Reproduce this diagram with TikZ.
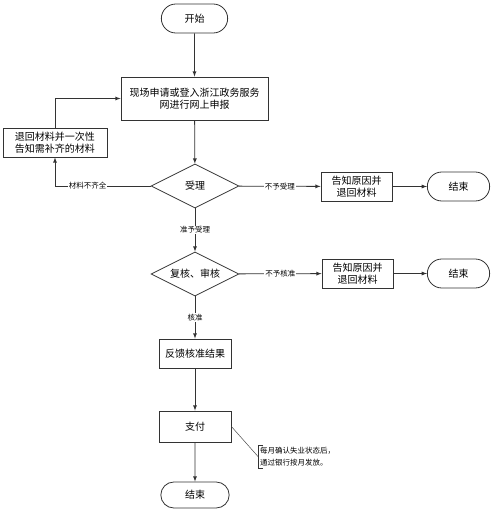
\documentclass[tikz,border=0pt]{standalone}
\usepackage{fontspec}
\setmainfont{Noto Sans CJK SC}
\usetikzlibrary{shapes.geometric, shapes.misc}

\tikzset{
	term/.style={draw=black!80, rounded rectangle, line width=0.8pt, minimum width=71pt, minimum height=29pt, font=\fontsize{10}{12}\selectfont},
	proc/.style={draw=black!80, rectangle, line width=0.8pt, align=center, inner sep=2pt, font=\fontsize{10}{12.5}\selectfont},
	decide/.style={draw=black!80, diamond, aspect=2, line width=0.8pt, inner sep=0pt, minimum width=88pt, minimum height=44pt, font=\fontsize{10}{12}\selectfont},
	lbl/.style={fill=white, inner sep=1pt, font=\fontsize{7.5}{9}\selectfont},
	flow/.style={-latex, draw=black!80, line width=0.8pt}
}

\begin{document}
\begin{tikzpicture}[x=1pt, y=-1pt]
		\useasboundingbox (0,0) rectangle (500,520);
		% Main column
		\node[term, minimum width=73pt] (start) at (194.5,18.5) {开始};
		\node[proc, minimum width=147pt, minimum height=43pt] (apply) at (194.5,98.5) {现场申请或登入浙江政务服务\\网进行网上申报};
		\node[decide] (accept) at (195,186) {受理};
		\node[decide] (review) at (195,274) {复核、审核};
		\node[proc, minimum width=72pt, minimum height=29pt] (feedback) at (195,353.5) {反馈核准结果};
		\node[proc, minimum width=72pt, minimum height=31pt] (pay) at (195,426.5) {支付};
		\node[term, minimum width=75pt, minimum height=26pt] (end3) at (195,495) {结束};
		% Return box
		\node[proc, minimum width=104pt, minimum height=29pt] (back) at (55,142.5) {退回材料并一次性\\告知需补齐的材料};
		% Refusals
		\node[proc, minimum width=71pt, minimum height=29pt] (reason1) at (356.5,186.5) {告知原因并\\退回材料};
		\node[term, minimum width=69pt] (end1) at (458.5,186.5) {结束};
		\node[proc, minimum width=71pt, minimum height=29pt] (reason2) at (357.5,273.5) {告知原因并\\退回材料};
		\node[term, minimum width=69pt] (end2) at (458.5,273.5) {结束};
		% Note
		\node[anchor=west, align=left, inner sep=2pt, font=\fontsize{7.5}{12}\selectfont] (note) at (258,456.5) {每月确认失业状态后，\\通过银行按月发放。};
		% Draw arrows
		\draw[flow] (start) -- (apply);
		\draw[flow] (apply) -- (accept);
		\draw[flow] (accept) -| node[lbl, pos=0.33]{材料不齐全} (back);
		\draw[flow] (back.north) |- (apply.west);
		\draw[flow] (accept) -- node[lbl]{不予受理} (reason1);
		\draw[flow] (reason1) -- (end1);
		\draw[flow] (accept) -- node[lbl]{准予受理} (review);
		\draw[flow] (review) -- node[lbl]{不予核准} (reason2);
		\draw[flow] (reason2) -- (end2);
		\draw[flow] (review) -- node[lbl]{核准} (feedback);
		\draw[flow] (feedback) -- (pay);
		\draw[flow] (pay) -- (end3);
		% Note bracket
		\draw[black!80, line width=0.6pt] (note.north west) ++(5,0) -- (note.north west) -- (note.south west) -- ++(5,0);
		\draw[black!70, line width=0.5pt] (pay.east) -- (note.west);
\end{tikzpicture}
\end{document}
